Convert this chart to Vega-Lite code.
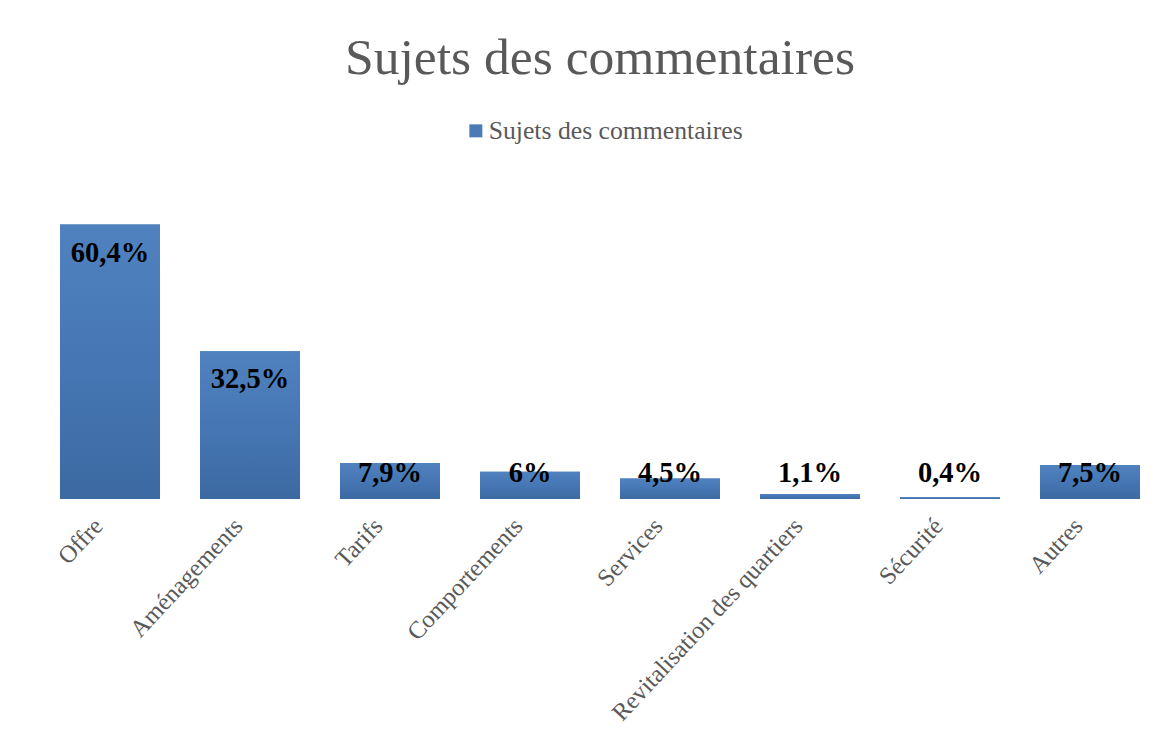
{
  "$schema": "https://vega.github.io/schema/vega-lite/v6.json",
  "width": 1120,
  "height": 318,
  "autosize": "none",
  "padding": {"left": 40, "top": 181, "right": 16, "bottom": 244},
  "background": "white",
  "title": {
    "text": "Sujets des commentaires",
    "font": "Liberation Serif",
    "fontSize": 51.6,
    "fontWeight": "normal",
    "color": "#595959",
    "anchor": "middle",
    "offset": 33
  },
  "config": {"view": {"stroke": null}},
  "data": {
    "values": [
      {"sujet": "Offre", "pct": 60.4, "label": "60,4%", "serie": "Sujets des commentaires"},
      {"sujet": "Aménagements", "pct": 32.5, "label": "32,5%", "serie": "Sujets des commentaires"},
      {"sujet": "Tarifs", "pct": 7.9, "label": "7,9%", "serie": "Sujets des commentaires"},
      {"sujet": "Comportements", "pct": 6, "label": "6%", "serie": "Sujets des commentaires"},
      {"sujet": "Services", "pct": 4.5, "label": "4,5%", "serie": "Sujets des commentaires"},
      {"sujet": "Revitalisation des quartiers", "pct": 1.1, "label": "1,1%", "serie": "Sujets des commentaires"},
      {"sujet": "Sécurité", "pct": 0.4, "label": "0,4%", "serie": "Sujets des commentaires"},
      {"sujet": "Autres", "pct": 7.5, "label": "7,5%", "serie": "Sujets des commentaires"}
    ]
  },
  "encoding": {
    "x": {
      "field": "sujet",
      "type": "nominal",
      "sort": null,
      "scale": {"paddingInner": 0.2857, "paddingOuter": 0.1429},
      "axis": {
        "title": null,
        "labelAngle": -47,
        "labelAlign": "right",
        "labelBaseline": "middle",
        "labelFont": "Liberation Serif",
        "labelFontSize": 24.5,
        "labelColor": "#595959",
        "labelPadding": 23,
        "labelOffset": -11,
        "labelLimit": 0,
        "labelOverlap": false,
        "ticks": false,
        "domain": false,
        "grid": false
      }
    }
  },
  "layer": [
    {
      "mark": {"type": "bar"},
      "encoding": {
        "y": {"field": "pct", "type": "quantitative", "scale": {"domain": [0, 70]}, "axis": null},
        "color": {
          "field": "serie",
          "type": "nominal",
          "scale": {"range": ["#4a7bb7"]},
          "legend": {
            "title": null,
            "orient": "none",
            "legendX": 423,
            "legendY": -63,
            "symbolType": "square",
            "symbolSize": 169,
            "symbolStrokeWidth": 0,
            "labelFont": "Liberation Serif",
            "labelFontSize": 25.7,
            "labelColor": "#595959",
            "labelOffset": 0,
            "labelLimit": 0
          }
        }
      }
    },
    {
      "mark": {
        "type": "bar",
        "color": {
          "gradient": "linear",
          "x1": 0, "y1": 0, "x2": 0, "y2": 1,
          "stops": [
            {"offset": 0, "color": "#5082bf"},
            {"offset": 0.5, "color": "#4677b4"},
            {"offset": 1, "color": "#3c69a1"}
          ]
        }
      },
      "encoding": {
        "y": {"field": "pct", "type": "quantitative"}
      }
    },
    {
      "transform": [{"filter": "datum.pct >= 10"}],
      "mark": {
        "type": "text",
        "dy": 37,
        "baseline": "alphabetic",
        "font": "Liberation Serif",
        "fontWeight": "bold",
        "fontSize": 28.5,
        "color": "black"
      },
      "encoding": {
        "y": {"field": "pct", "type": "quantitative"},
        "text": {"field": "label"}
      }
    },
    {
      "transform": [{"filter": "datum.pct < 10"}],
      "mark": {
        "type": "text",
        "baseline": "alphabetic",
        "font": "Liberation Serif",
        "fontWeight": "bold",
        "fontSize": 28.5,
        "color": "black"
      },
      "encoding": {
        "y": {"datum": 3.75, "type": "quantitative"},
        "text": {"field": "label"}
      }
    }
  ]
}
